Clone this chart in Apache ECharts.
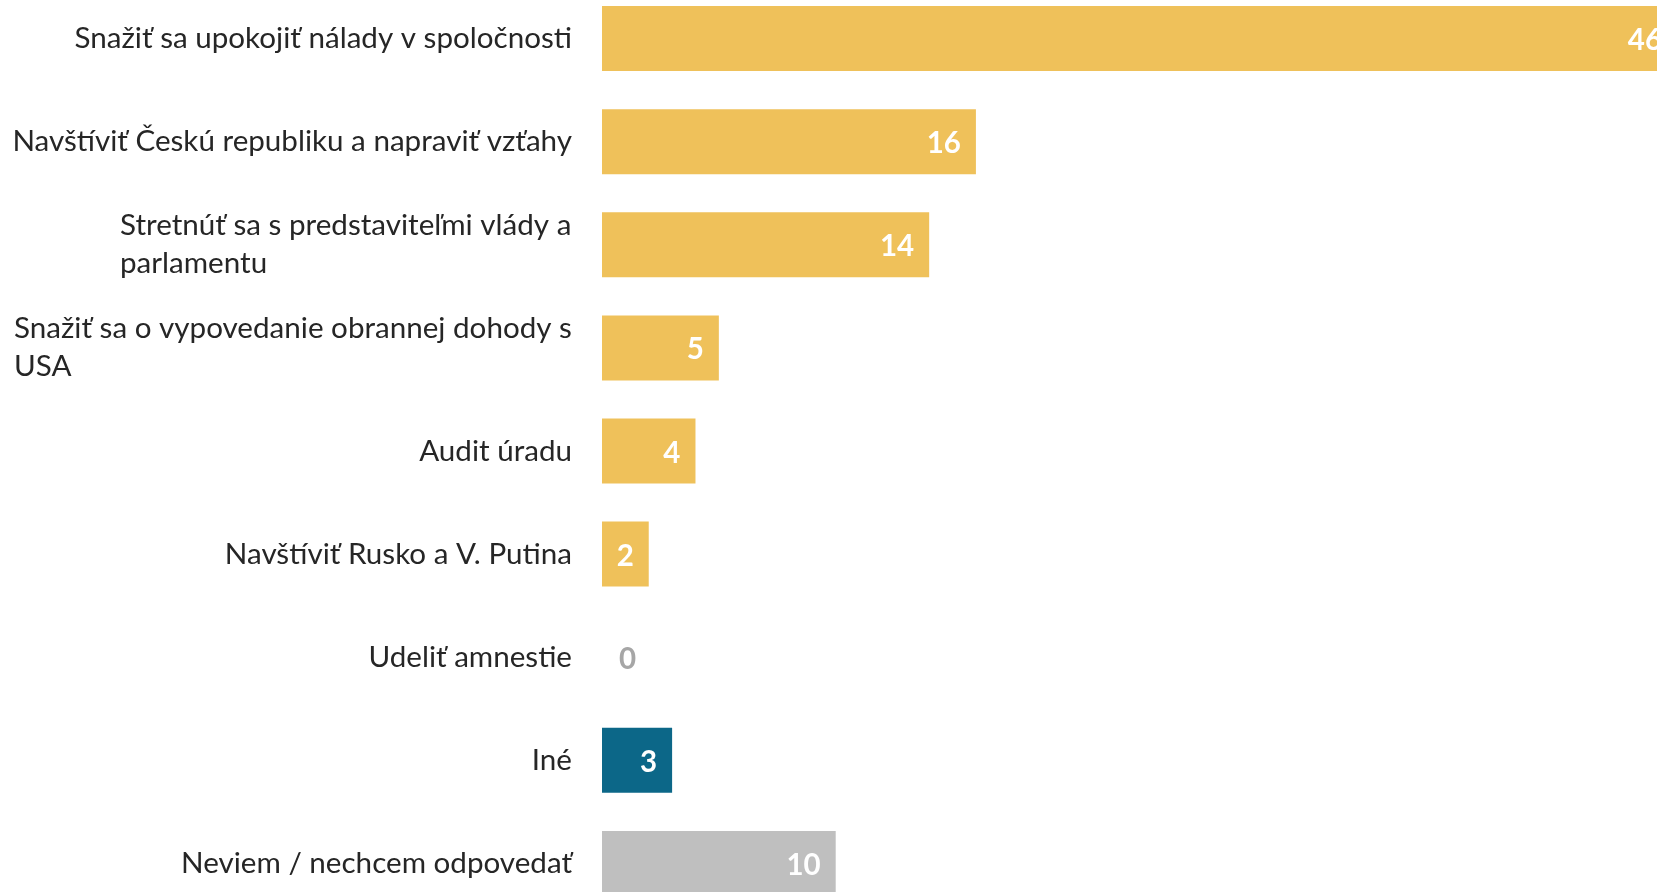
<!DOCTYPE html>
<html><head><meta charset="utf-8">
<script src="https://cdn.jsdelivr.net/npm/echarts@6/dist/echarts.min.js"></script>
<style>html,body{margin:0;padding:0;background:#fff;overflow:hidden}#c{width:1657px;height:892px}</style>
</head><body><div id="c"></div>
<script>
const categories = [
  'Snažiť sa upokojiť nálady v spoločnosti',
  'Navštíviť Českú republiku a napraviť vzťahy',
  'Stretnúť sa s predstaviteľmi vlády a\nparlamentu',
  'Snažiť sa o vypovedanie obrannej dohody s\nUSA',
  'Audit úradu',
  'Navštíviť Rusko a V. Putina',
  'Udeliť amnestie',
  'Iné',
  'Neviem / nechcem odpovedať'
];
const values = [46, 16, 14, 5, 4, 2, 0, 3, 10];
const groups = ['answer','answer','answer','answer','answer','answer','answer','other','none'];

const groupColors = { answer: '#EFC15A', other: '#0C6788', none: '#BFBFBF' };
const FONT = 'Lato';
const LABEL_SIZE = 29.6;
const LINE_H = 38;

const ctx = document.createElement('canvas').getContext('2d');
ctx.font = LABEL_SIZE + 'px ' + FONT;
function maxLineWidth(lines) {
  return Math.max.apply(null, lines.map(l => ctx.measureText(l).width));
}

const rich = {};
categories.forEach((c, i) => {
  const lines = c.split('\n');
  if (lines.length > 1) {
    rich['w' + i] = {
      fontSize: LABEL_SIZE, fontFamily: FONT, color: '#262626',
      lineHeight: LINE_H, align: 'left', width: Math.ceil(maxLineWidth(lines))
    };
  }
});

const seriesData = values.map((v, i) => {
  const item = { value: v, itemStyle: { color: groupColors[groups[i]] } };
  if (v === 0) {
    item.label = { position: 'right', distance: 17, color: '#A6A6A6' };
  }
  return item;
});

const chart = echarts.init(document.getElementById('c'));
chart.setOption({
  animation: false,
  backgroundColor: '#ffffff',
  grid: { left: 602, right: -20, top: -13, bottom: -23, containLabel: false, outerBoundsMode: 'none' },
  xAxis: { type: 'value', min: 0, max: 46, show: false },
  yAxis: {
    type: 'category',
    inverse: true,
    data: categories,
    axisLine: { show: false },
    axisTick: { show: false },
    splitLine: { show: false },
    axisLabel: {
      margin: 30,
      color: '#262626',
      fontSize: LABEL_SIZE,
      fontFamily: FONT,
      lineHeight: LINE_H,
      formatter: function (val, idx) {
        const lines = val.split('\n');
        if (lines.length === 1) return val;
        return lines.map(l => '{w' + idx + '|' + l + '}').join('\n');
      },
      rich: rich
    }
  },
  series: [{
    type: 'bar',
    data: seriesData,
    barWidth: 65,
    label: {
      show: true,
      position: 'insideRight',
      distance: 15,
      offset: [0, 2],
      color: '#ffffff',
      fontWeight: 'bold',
      fontSize: 29.5,
      fontFamily: FONT
    }
  }]
});
</script>
</body></html>
